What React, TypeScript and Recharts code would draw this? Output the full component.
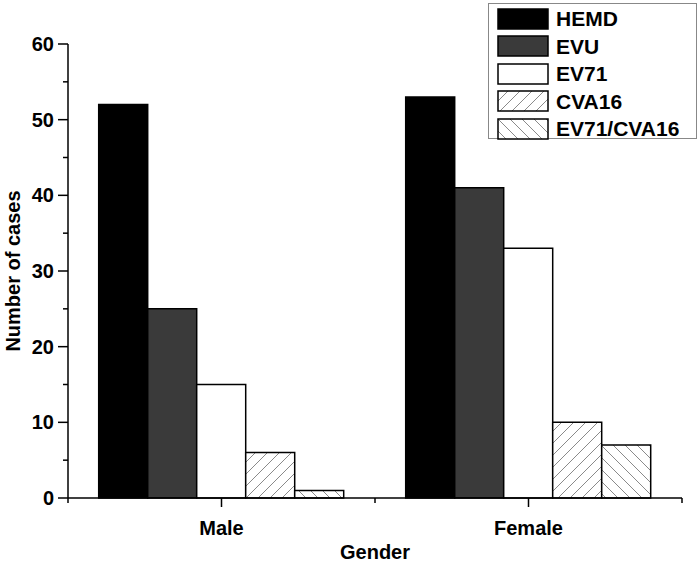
import React from 'react';
import { BarChart, Bar, XAxis, YAxis, Legend, Label } from 'recharts';

const genders = ['Male', 'Female'];
const seriesNames = ['HEMD', 'EVU', 'EV71', 'CVA16', 'EV71/CVA16'];
const hemd = [52, 53];
const evu = [25, 41];
const ev71 = [15, 33];
const cva16 = [6, 10];
const ev71Cva16 = [1, 7];
const yTicks = [0, 5, 10, 15, 20, 25, 30, 35, 40, 45, 50, 55, 60];

const data = genders.map((g, i) => ({
  gender: g,
  HEMD: hemd[i],
  EVU: evu[i],
  EV71: ev71[i],
  CVA16: cva16[i],
  'EV71/CVA16': ev71Cva16[i],
}));

const font = 'Liberation Sans, Arial, sans-serif';

const YTick = (props: any) => {
  const { x, y, payload } = props;
  const major = payload.value % 10 === 0;
  return (
    <g>
      <line x1={x - (major ? 10 : 5)} x2={x} y1={y} y2={y} stroke="#000" strokeWidth={1.5} />
      {major && (
        <text x={x - 14} y={y + 7} textAnchor="end" fontSize={20} fontWeight="bold" fontFamily={font} fill="#000">
          {payload.value}
        </text>
      )}
    </g>
  );
};

const XTick = (props: any) => {
  const { x, y, payload } = props;
  const off = payload.offset || 0;
  return (
    <g>
      <line x1={x} x2={x} y1={y} y2={y + 9} stroke="#000" strokeWidth={1.5} />
      {off > 0 && payload.index === 0 && (
        <line x1={x - off} x2={x - off} y1={y} y2={y + 5} stroke="#000" strokeWidth={1.5} />
      )}
      <line x1={x + off} x2={x + off} y1={y} y2={y + 5} stroke="#000" strokeWidth={1.5} />
      <text x={x} y={y + 37} textAnchor="middle" fontSize={20} fontWeight="bold" fontFamily={font} fill="#000">
        {payload.value}
      </text>
    </g>
  );
};

// legend drawn as a boxed list, kept in series order
const LegendBox = (props: any) => {
  const items = [...(props.payload || [])].sort(
    (a: any, b: any) => seriesNames.indexOf(a.value) - seriesNames.indexOf(b.value)
  );
  return (
    <div style={{ border: '1px solid #888', background: '#fff', width: 209, height: 136, boxSizing: 'border-box', paddingTop: 1 }}>
      {items.map((it: any) => (
        <div key={it.value} style={{ display: 'flex', alignItems: 'center', height: 27.5 }}>
          <svg width={59} height={22} style={{ marginLeft: 8 }}>
            <rect x={1} y={1} width={50} height={20} fill={it.color} stroke="#000" strokeWidth={1.5} />
          </svg>
          <span style={{ fontFamily: font, fontWeight: 'bold', fontSize: 21, color: '#000', lineHeight: '27px' }}>{it.value}</span>
        </div>
      ))}
    </div>
  );
};

export default function App() {
  return (
    <div style={{ position: 'absolute', left: 0, top: 0, width: 700, height: 563, background: '#fff' }}>
      <svg width={0} height={0} style={{ position: 'absolute' }}>
        <defs>
          <pattern id="hatchFwd" width={12} height={12} patternUnits="userSpaceOnUse">
            <rect width={12} height={12} fill="#fff" />
            <path d="M-2,14 L14,-2 M-2,2 L2,-2 M10,14 L14,10" stroke="#8a8a8a" strokeWidth={1} />
          </pattern>
          <pattern id="hatchBack" width={12} height={12} patternUnits="userSpaceOnUse">
            <rect width={12} height={12} fill="#fff" />
            <path d="M-2,-2 L14,14 M-2,10 L2,14 M10,-2 L14,2" stroke="#8a8a8a" strokeWidth={1} />
          </pattern>
        </defs>
      </svg>
      <BarChart
        width={700}
        height={563}
        data={data}
        margin={{ top: 44, right: 18, left: 0, bottom: 0 }}
        barCategoryGap="10%"
        barGap={0}
      >
        <XAxis
          dataKey="gender"
          height={65}
          tickSize={0}
          tickMargin={0}
          tick={<XTick />}
          axisLine={{ stroke: '#000', strokeWidth: 1.5 }}
          tickLine={false}
        >
          <Label value="Gender" position="insideBottom" offset={4} style={{ fontFamily: font, fontWeight: 'bold', fontSize: 20, fill: '#000' }} />
        </XAxis>
        <YAxis
          width={68}
          domain={[0, 60]}
          ticks={yTicks}
          interval={0}
          tickSize={0}
          tickMargin={0}
          tick={<YTick />}
          tickLine={false}
          axisLine={{ stroke: '#000', strokeWidth: 1.5 }}
        >
          <Label
            value="Number of cases"
            angle={-90}
            position="insideLeft"
            offset={13}
            style={{ textAnchor: 'middle', fontFamily: font, fontWeight: 'bold', fontSize: 20, fill: '#000' }}
          />
        </YAxis>
        <Legend
          layout="vertical"
          align="center"
          verticalAlign="middle"
          content={<LegendBox />}
          wrapperStyle={{ position: 'absolute', left: 488, top: 3, width: 209, height: 136 }}
        />
        <Bar dataKey="HEMD" fill="#000" stroke="#000" strokeWidth={1.5} isAnimationActive={false} />
        <Bar dataKey="EVU" fill="#3a3a3a" stroke="#000" strokeWidth={1.5} isAnimationActive={false} />
        <Bar dataKey="EV71" fill="#fff" stroke="#000" strokeWidth={1.5} isAnimationActive={false} />
        <Bar dataKey="CVA16" fill="url(#hatchFwd)" stroke="#000" strokeWidth={1.5} isAnimationActive={false} />
        <Bar dataKey="EV71/CVA16" fill="url(#hatchBack)" stroke="#000" strokeWidth={1.5} isAnimationActive={false} />
      </BarChart>
    </div>
  );
}
